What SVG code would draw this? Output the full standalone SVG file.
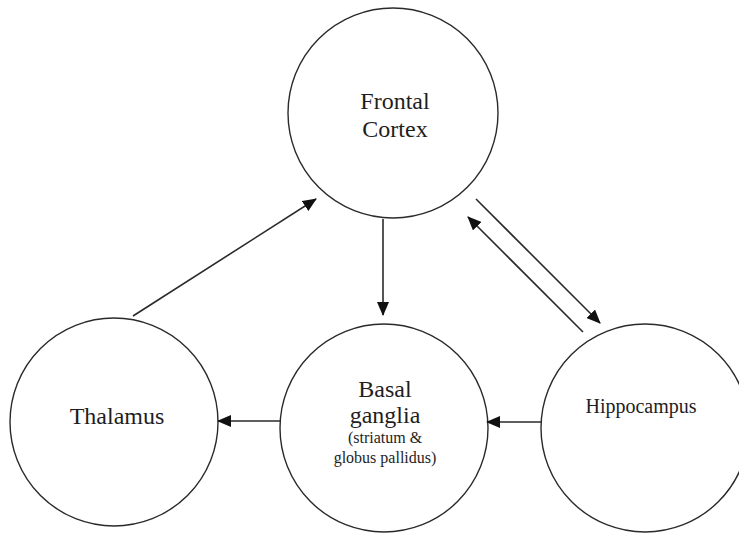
<svg xmlns="http://www.w3.org/2000/svg" width="739" height="535" viewBox="0 0 739 535">
  <style>
    .node { fill: #ffffff; stroke: #2a2a2a; stroke-width: 1.4; }
    text { font-family: 'Liberation Serif', 'Times New Roman', Times, serif; fill: #1e1e1e; text-anchor: middle; }
    .big { font-size: 24px; }
    .mid { font-size: 20px; }
    .small { font-size: 16px; }
    .link { stroke: #2a2a2a; stroke-width: 1.6; fill: none; marker-end: url(#arrow); }
  </style>
  <defs>
    <marker id="arrow" markerUnits="userSpaceOnUse" markerWidth="14" markerHeight="12" viewBox="0 0 14 12" refX="13" refY="6" orient="auto">
      <path d="M0,0 L14,6 L0,12 Z" fill="#111111"/>
    </marker>
  </defs>
  <rect width="739" height="535" fill="#ffffff"/>

  <g id="frontal-cortex" font-family="Liberation Serif, serif">
    <circle class="node" cx="393" cy="113" r="105"/>
    <text class="big" x="395" y="109">Frontal</text>
    <text class="big" x="395" y="137">Cortex</text>
  </g>

  <g id="basal-ganglia" font-family="Liberation Serif, serif">
    <circle class="node" cx="384" cy="428" r="104"/>
    <text class="big" x="385" y="397">Basal</text>
    <text class="big" x="385" y="423">ganglia</text>
    <text class="small" x="385" y="443">(striatum &amp;</text>
    <text class="small" x="385" y="463">globus pallidus)</text>
  </g>

  <g id="thalamus" font-family="Liberation Serif, serif">
    <circle class="node" cx="114" cy="422" r="104"/>
    <text class="big" x="117" y="424">Thalamus</text>
  </g>

  <g id="hippocampus" font-family="Liberation Serif, serif">
    <circle class="node" cx="645" cy="428" r="104"/>
    <text class="mid" x="641" y="413">Hippocampus</text>
  </g>

  <g id="connectors">
    <line class="link" x1="383" y1="219" x2="383" y2="315"/>
    <line class="link" x1="281" y1="421" x2="218" y2="421"/>
    <line class="link" x1="542" y1="422" x2="487" y2="422"/>
    <line class="link" x1="133" y1="316" x2="316" y2="199"/>
    <line class="link" x1="476" y1="199" x2="600" y2="323"/>
    <line class="link" x1="583" y1="332" x2="468" y2="217"/>
  </g>
</svg>
